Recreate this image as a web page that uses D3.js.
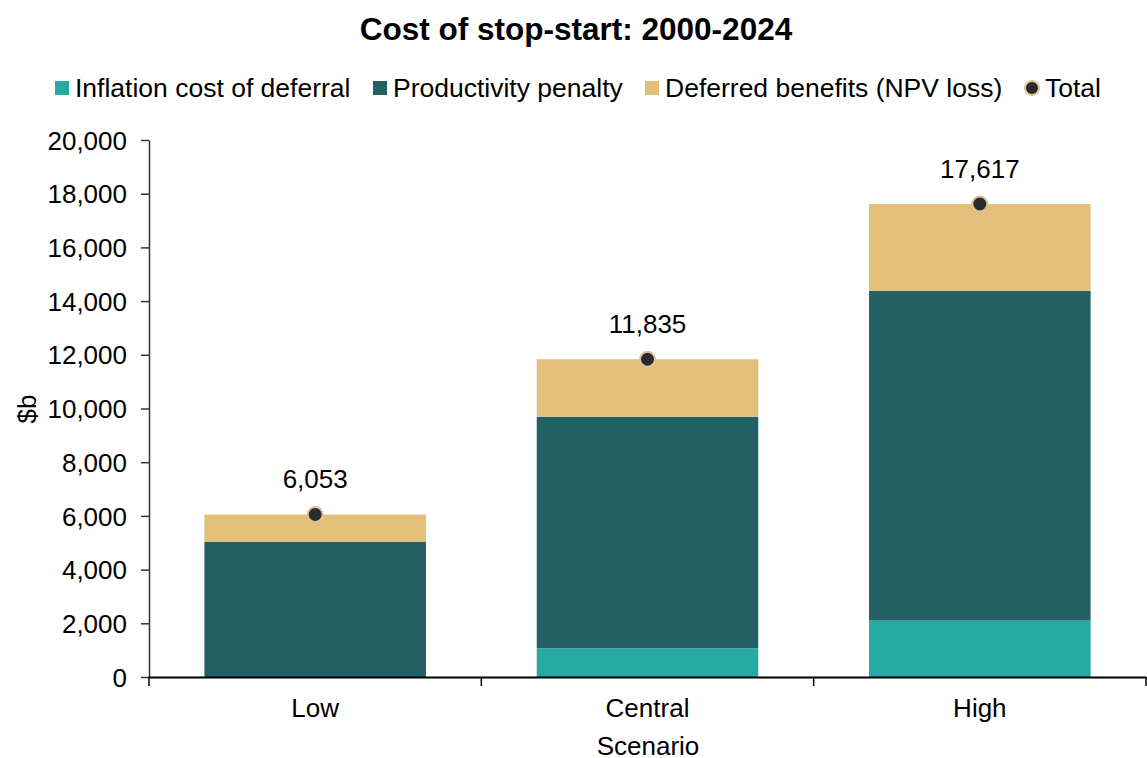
<!DOCTYPE html>
<html>
<head>
<meta charset="utf-8">
<script src="https://cdn.jsdelivr.net/npm/d3@7"></script>
<style>
html,body{margin:0;padding:0;background:#fff;}
svg{display:block;font-family:"Liberation Sans",Arial,sans-serif;}
</style>
</head>
<body>
<svg id="chart" width="1147" height="758"></svg>
<script>
const categories = ["Low", "Central", "High"];
const inflationCost = [0, 1070, 2100];
const productivityPenalty = [5040, 8625, 12285];
const deferredBenefits = [1013, 2140, 3232];
const totals = [6053, 11835, 17617];
const seriesNames = ["Inflation cost of deferral", "Productivity penalty", "Deferred benefits (NPV loss)"];
const seriesColors = ["#26A8A3", "#236063", "#E3BF7A"];
const yTicks = [0, 2000, 4000, 6000, 8000, 10000, 12000, 14000, 16000, 18000, 20000];

const svg = d3.select("#chart");
const plotLeft = 149, plotRight = 1146, plotTop = 140, plotBottom = 677;

const x = d3.scaleBand().domain(categories).range([plotLeft, plotRight]).paddingInner(1/3).paddingOuter(1/6);
const y = d3.scaleLinear().domain([0, 20000]).range([plotBottom, plotTop]);

const rows = categories.map((c, i) => ({cat: c, s0: inflationCost[i], s1: productivityPenalty[i], s2: deferredBenefits[i]}));
const stack = d3.stack().keys(["s0", "s1", "s2"]);
const layers = stack(rows);

// title
svg.append("text").attr("x", 576).attr("y", 40).attr("text-anchor", "middle")
  .attr("font-size", 31.5).attr("font-weight", "bold").attr("fill", "#000")
  .text("Cost of stop-start: 2000-2024");

// bars
layers.forEach((layer, li) => {
  svg.append("g").selectAll("rect").data(layer).join("rect")
    .attr("x", d => x(d.data.cat))
    .attr("width", x.bandwidth())
    .attr("y", d => y(d[1]))
    .attr("height", d => y(d[0]) - y(d[1]))
    .attr("fill", seriesColors[li]);
});

// y axis
const yAxis = d3.axisLeft(y).tickValues(yTicks).tickSize(8).tickSizeOuter(0).tickFormat(d3.format(","));
const gy = svg.append("g").attr("transform", `translate(${plotLeft},0)`).call(yAxis);
gy.select(".domain").attr("stroke", "#333").attr("stroke-width", 1.5);
gy.selectAll(".tick line").attr("stroke", "#333").attr("stroke-width", 1.5);
gy.selectAll(".tick text").attr("font-size", 26).attr("font-family", "Liberation Sans, Arial, sans-serif").attr("fill", "#000").attr("x", -22).attr("dy", "0.35em");

// x axis
const xAxis = d3.axisBottom(x).tickSize(0).tickSizeOuter(0);
const gx = svg.append("g").attr("transform", `translate(0,${plotBottom})`).call(xAxis);
gx.select(".domain").attr("stroke", "#000").attr("stroke-width", 2);
gx.selectAll(".tick text").attr("font-size", 26).attr("font-family", "Liberation Sans, Arial, sans-serif").attr("fill", "#000").attr("y", 40).attr("dy", 0);
// category boundary ticks
const step = x.step();
const bounds = [0, 1, 2, 3].map(i => x(categories[0]) - x.paddingOuter() * step + i * step);
svg.append("g").selectAll("line").data(bounds).join("line")
  .attr("x1", d => d).attr("x2", d => d).attr("y1", plotBottom).attr("y2", plotBottom + 9)
  .attr("stroke", "#000").attr("stroke-width", 1.5);

// axis titles
svg.append("text").attr("transform", "translate(36,409) rotate(-90)").attr("text-anchor", "middle")
  .attr("font-size", 26).attr("fill", "#000").text("$b");
svg.append("text").attr("x", 648).attr("y", 755).attr("text-anchor", "middle")
  .attr("font-size", 26).attr("fill", "#000").text("Scenario");

// total points & labels
svg.append("g").selectAll("circle").data(categories).join("circle")
  .attr("cx", d => x(d) + x.bandwidth() / 2)
  .attr("cy", (d, i) => y(totals[i]))
  .attr("r", 7.5).attr("fill", "#2B2B2B").attr("stroke", "#D9C3A0").attr("stroke-width", 2);
svg.append("g").selectAll("text").data(categories).join("text")
  .attr("x", d => x(d) + x.bandwidth() / 2)
  .attr("y", (d, i) => y(totals[i]) - 26)
  .attr("text-anchor", "middle").attr("font-size", 26).attr("fill", "#000")
  .text((d, i) => d3.format(",")(totals[i]));

// legend
const legendItems = [
  {name: seriesNames[0], color: seriesColors[0], x: 55, type: "rect"},
  {name: seriesNames[1], color: seriesColors[1], x: 373, type: "rect"},
  {name: seriesNames[2], color: seriesColors[2], x: 645, type: "rect"},
  {name: "Total", color: "#2B2B2B", x: 1025, type: "circle"}
];
const lg = svg.append("g");
legendItems.forEach(it => {
  if (it.type === "rect") {
    lg.append("rect").attr("x", it.x).attr("y", 81).attr("width", 14).attr("height", 14).attr("fill", it.color);
  } else {
    lg.append("circle").attr("cx", it.x + 7).attr("cy", 88).attr("r", 7).attr("fill", it.color)
      .attr("stroke", "#D9C3A0").attr("stroke-width", 2);
  }
  lg.append("text").attr("x", it.x + 20).attr("y", 97).attr("font-size", 26.5).attr("fill", "#000").text(it.name);
});
</script>
</body>
</html>
